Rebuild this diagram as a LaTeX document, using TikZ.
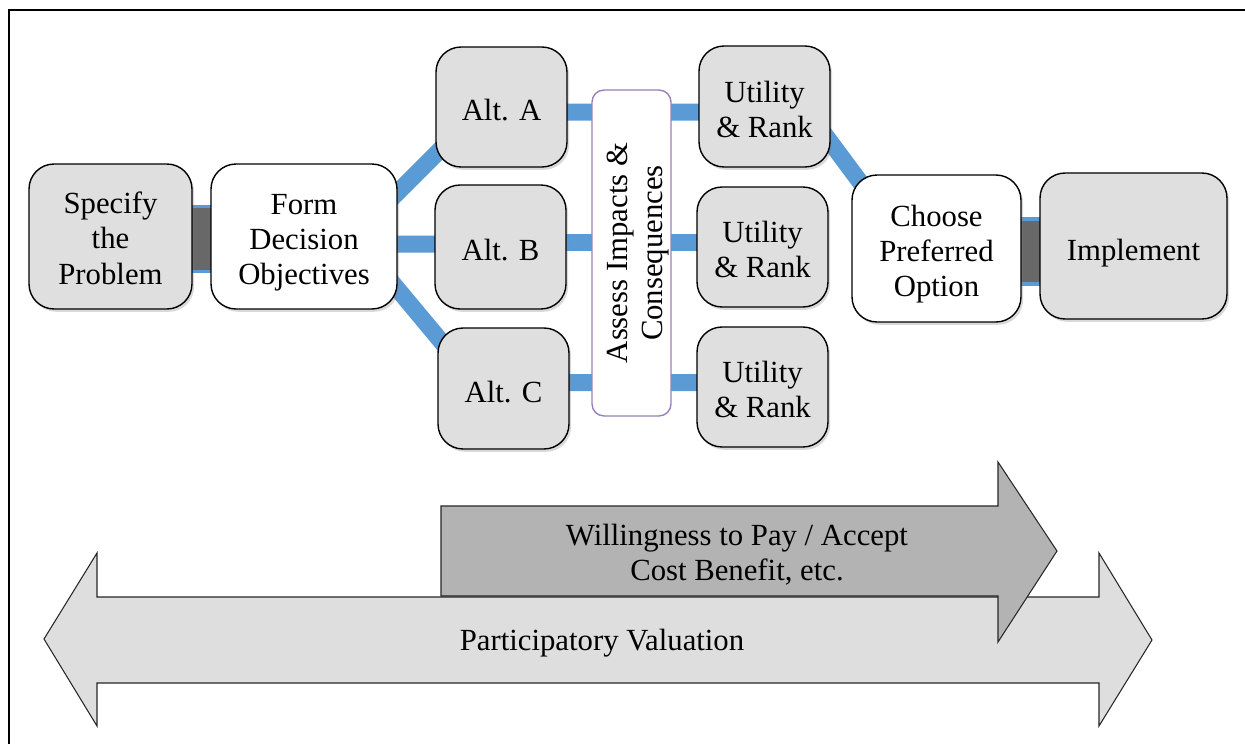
\documentclass[tikz,border=0pt]{standalone}
\usepackage{fontspec}
\setmainfont{Liberation Serif}
\usetikzlibrary{calc,shadows}
\pgfdeclarelayer{back}
\pgfsetlayers{back,main}

\definecolor{linkblue}{HTML}{5B9BD5}
\definecolor{boxgray}{HTML}{DFDFDF}
\definecolor{bargray}{HTML}{686868}
\definecolor{purpleedge}{HTML}{9A80B8}
\definecolor{arrowlight}{HTML}{DEDEDE}
\definecolor{arrowdark}{HTML}{B3B3B3}

% invisible strut that sets how far a label sits down inside its box
\newcommand\padtop[1]{\rule{0pt}{#1pt}}

\begin{document}
\begin{tikzpicture}[x=0.02cm,y=-0.02cm,
  every node/.style={font=\fontsize{17.5}{20}\selectfont, align=center, inner sep=0pt},
  stagebox/.style={draw=black, line width=0.8pt, rounded corners=0.5cm, fill=#1,
    drop shadow={shadow xshift=1.2pt, shadow yshift=-1.6pt, opacity=0.3}},
  assessbox/.style={draw=purpleedge, line width=0.8pt, rounded corners=0.24cm, fill=white},
  link/.style={draw=linkblue, line width=0.34cm},
  barouter/.style={draw=linkblue, line width=1.38cm},
  barinner/.style={draw=bargray, line width=1.24cm},
  bigarrow/.style={draw=black!85, line width=0.6pt, fill=#1}]

\useasboundingbox (0,0) rectangle (1245,744);

% page frame
\draw[line width=1.2pt] (9,770) -- (9,10) -- (1270,10);

% process stages
\node[stagebox=boxgray, minimum width=3.26cm, minimum height=2.9cm] (spec) at (110.5,236.5) {\padtop{14.3}Specify\\the\\Problem};
\node[stagebox=white, minimum width=3.72cm, minimum height=2.9cm] (form) at (304,236.5) {\padtop{18.8}Form\\Decision\\Objectives};
\node[stagebox=boxgray, minimum width=2.62cm, minimum height=2.4cm] (altA) at (501.5,107) {\padtop{16}Alt. A};
\node[stagebox=boxgray, minimum width=2.62cm, minimum height=2.48cm] (altB) at (500.5,247) {\padtop{16}Alt. B};
\node[stagebox=boxgray, minimum width=2.62cm, minimum height=2.42cm] (altC) at (503.5,388.5) {\padtop{16.5}Alt. C};
\node[assessbox, rotate=90, minimum width=6.52cm, minimum height=1.58cm] (assess) at (631.5,253) {\padtop{18.8}Assess Impacts \&\\Consequences};
\node[stagebox=boxgray, minimum width=2.62cm, minimum height=2.42cm] (utilA) at (764.5,106.5) {\padtop{15.4}Utility\\\& Rank};
\node[stagebox=boxgray, minimum width=2.62cm, minimum height=2.4cm] (utilB) at (762.5,247) {\padtop{15.4}Utility\\\& Rank};
\node[stagebox=boxgray, minimum width=2.62cm, minimum height=2.4cm] (utilC) at (762.5,387) {\padtop{15.4}Utility\\\& Rank};
\node[stagebox=white, minimum width=3.38cm, minimum height=2.94cm] (choose) at (936.5,248.5) {\padtop{18.8}Choose\\Preferred\\Option};
\node[stagebox=boxgray, minimum width=3.74cm, minimum height=2.92cm] (impl) at (1133.5,246) {\padtop{20}Implement};

% connectors, kept behind the stages
\begin{pgfonlayer}{back}
  \draw[barouter] ($(spec.center)+(0,2.5)$) -- ($(form.center)+(0,2.5)$);
  \draw[barinner] ($(spec.center)+(0,2.5)$) -- ($(form.center)+(0,2.5)$);
  \draw[barouter] ($(choose.center)+(0,3)$) -- ($(impl.center)+(0,5.5)$);
  \draw[barinner] ($(choose.center)+(0,3)$) -- ($(impl.center)+(0,5.5)$);

  \draw[link] ($(form.center)+(81,-31.5)$) -- ($(altA.center)+(-51.5,33)$);
  \draw[link] ($(form.center)+(0,7.5)$) -- ($(altB.center)+(0,-3)$);
  \draw[link] ($(form.center)+(81,37.5)$) -- ($(altC.center)+(-53.5,-36.5)$);

  \draw[link] ($(altA.center)+(0,5)$) -- ($(utilA.center)+(0,5.5)$);
  \draw[link] ($(altB.center)+(0,-4.5)$) -- ($(utilB.center)+(0,-4.5)$);
  \draw[link] ($(altC.center)+(0,-6)$) -- ($(utilC.center)+(0,-4.5)$);

  \draw[link] ($(utilA.center)+(43.5,5.5)$) -- ($(choose.center)+(-41.5,-19.5)$);
\end{pgfonlayer}

% valuation arrows
\draw[bigarrow=arrowlight] (44,639) -- (97,553) -- (97,597) -- (1099,597) -- (1099,553)
  -- (1152,640) -- (1099,726) -- (1099,683) -- (97,683) -- (97,726) -- cycle;
\draw[bigarrow=arrowdark] (441,506) -- (998,506) -- (998,462) -- (1057,551)
  -- (998,642) -- (998,596) -- (441,596) -- cycle;

\node (pv) at (602,643) {Participatory Valuation};
\node (wtp) at (737,555) {Willingness to Pay / Accept\\Cost Benefit, etc.};

\end{tikzpicture}
\end{document}
